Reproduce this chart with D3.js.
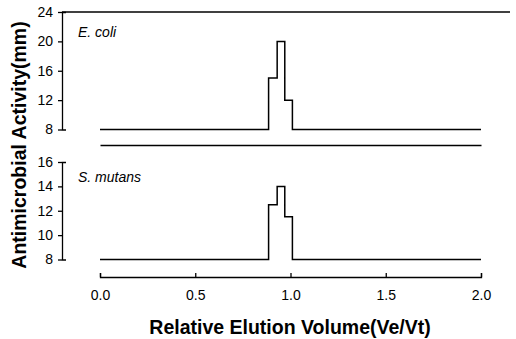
<!DOCTYPE html>
<html>
<head>
    <script src="https://cdn.jsdelivr.net/npm/d3@7"></script>
    <style>
        body { margin: 0; background: #fff; }
        text { font-family: "Liberation Sans", Arial, sans-serif; }
    </style>
</head>

<body>
<div id="chart"></div>

<script>

    // fraction positions (Ve/Vt) where activity changes
    var elution = [0, 0.885, 0.93, 0.97, 1.01, 2.0];
    var ecoli = [8, 15, 20, 12, 8, 8];
    var smutans = [8, 12.5, 14, 11.5, 8, 8];

    var xTicks = [0, 0.5, 1.0, 1.5, 2.0];
    var topTicks = [8, 12, 16, 20, 24];
    var botTicks = [8, 10, 12, 14, 16];

    var width = 516;
    var height = 339;
    var axisX = 62;

    var xScale = d3.scaleLinear().domain([0, 2]).range([100, 481]);
    var yTop = d3.scaleLinear().domain([8, 24]).range([129.5, 12]);
    var yBot = d3.scaleLinear().domain([8, 16]).range([259.5, 162]);

    var svg = d3.select('#chart').append('svg')
        .attr('width', width)
        .attr('height', height);

    function styleAxis(g) {
        g.attr('font-family', null).attr('font-size', null);
        g.selectAll('path, line').attr('stroke', '#000').attr('stroke-width', 1.3);
        g.selectAll('text').attr('fill', '#000').style('font-size', '14px');
    }

    // top panel (E. coli)
    svg.append('g')
        .attr('transform', 'translate(' + axisX + ',0)')
        .call(d3.axisLeft(yTop).tickValues(topTicks).tickSize(4).tickSizeOuter(-4).tickPadding(5))
        .call(styleAxis);

    // top frame line
    svg.append('line')
        .attr('x1', axisX).attr('x2', width - 6)
        .attr('y1', yTop(24)).attr('y2', yTop(24))
        .attr('stroke', '#000').attr('stroke-width', 1.3);

    // bottom edge of top panel, no ticks
    svg.append('g')
        .attr('transform', 'translate(0,145)')
        .call(d3.axisBottom(xScale).tickValues([]).tickSizeOuter(0))
        .call(styleAxis);

    // bottom panel (S. mutans)
    svg.append('g')
        .attr('transform', 'translate(' + axisX + ',0)')
        .call(d3.axisLeft(yBot).tickValues(botTicks).tickSize(4).tickSizeOuter(-4).tickPadding(5))
        .call(styleAxis);

    svg.append('g')
        .attr('transform', 'translate(0,277)')
        .call(d3.axisBottom(xScale).tickValues(xTicks).tickFormat(d3.format('.1f'))
            .tickSize(-4).tickPadding(13))
        .call(styleAxis);

    var topLine = d3.line()
        .curve(d3.curveStepAfter)
        .x(function(d, i) { return xScale(elution[i]); })
        .y(function(d) { return yTop(d); });

    var botLine = d3.line()
        .curve(d3.curveStepAfter)
        .x(function(d, i) { return xScale(elution[i]); })
        .y(function(d) { return yBot(d); });

    svg.append('path')
        .datum(ecoli)
        .attr('d', topLine)
        .attr('fill', 'none')
        .attr('stroke', '#000')
        .attr('stroke-width', 1.5);

    svg.append('path')
        .datum(smutans)
        .attr('d', botLine)
        .attr('fill', 'none')
        .attr('stroke', '#000')
        .attr('stroke-width', 1.5);

    svg.append('text')
        .attr('x', 78).attr('y', 37)
        .style('font-size', '14px').style('font-style', 'italic')
        .text('E. coli');

    svg.append('text')
        .attr('x', 78).attr('y', 182)
        .style('font-size', '14px').style('font-style', 'italic')
        .text('S. mutans');

    svg.append('text')
        .attr('x', 290).attr('y', 334)
        .attr('text-anchor', 'middle')
        .style('font-size', '19.5px').style('font-weight', 'bold')
        .text('Relative Elution Volume(Ve/Vt)');

    svg.append('text')
        .attr('transform', 'translate(26,145) rotate(-90)')
        .attr('text-anchor', 'middle')
        .style('font-size', '19.5px').style('font-weight', 'bold')
        .text('Antimicrobial Activity(mm)');

</script>
</body>
</html>
